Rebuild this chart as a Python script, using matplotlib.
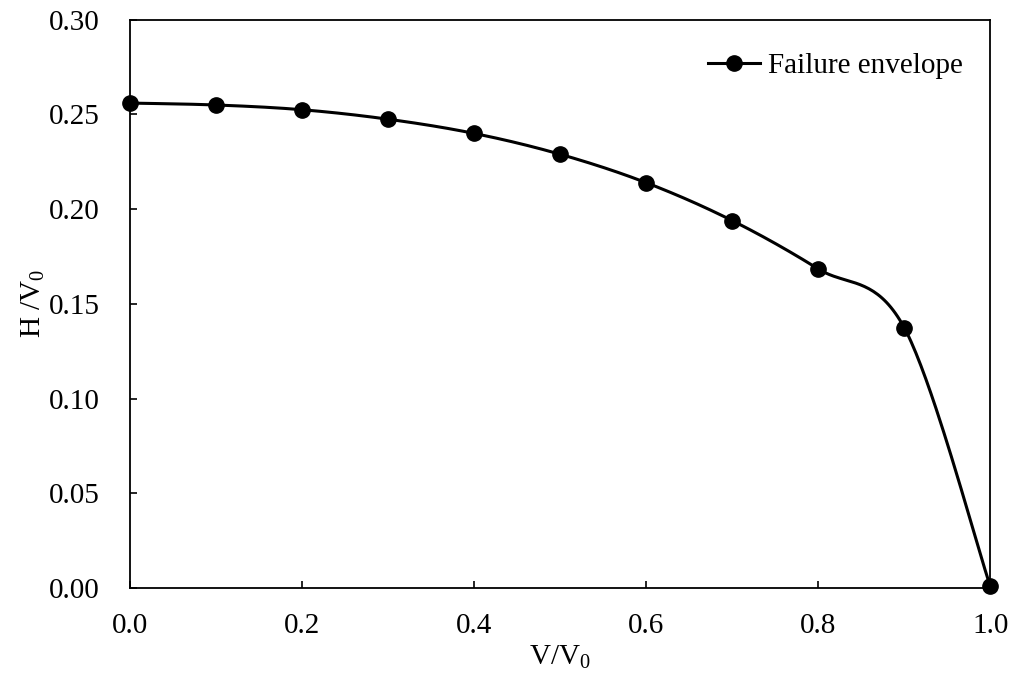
import numpy as np
import matplotlib
matplotlib.use("Agg")
import matplotlib.pyplot as plt

plt.rcParams['font.family'] = ['Liberation Serif', 'DejaVu Serif']
plt.rcParams['mathtext.fontset'] = 'custom'
plt.rcParams['mathtext.rm'] = 'Liberation Serif'
plt.rcParams['mathtext.it'] = 'Liberation Serif:italic'

# data
v_ratio = [0.0, 0.1, 0.2, 0.3, 0.4, 0.5, 0.6, 0.7, 0.8, 0.9, 1.0]
h_ratio = [0.256, 0.255, 0.2525, 0.2475, 0.240, 0.229, 0.214, 0.194, 0.1685, 0.1375, 0.001]


# Excel-like smoothed line (Catmull-Rom as cubic Bezier segments)
def smooth(x, y, n=40):
    p = np.column_stack([x, y]).astype(float)
    p = np.vstack([p[0], p, p[-1]])
    out = []
    t = np.linspace(0, 1, n)[:, None]
    for i in range(1, len(p) - 2):
        p0, p1, p2, p3 = p[i - 1], p[i], p[i + 1], p[i + 2]
        c1 = p1 + (p2 - p0) / 6
        c2 = p2 - (p3 - p1) / 6
        seg = ((1 - t) ** 3) * p1 + 3 * ((1 - t) ** 2) * t * c1 + 3 * (1 - t) * t ** 2 * c2 + t ** 3 * p2
        out.append(seg)
    out = np.vstack(out)
    return out[:, 0], out[:, 1]


fig = plt.figure(figsize=(10.12, 6.8), dpi=100)
ax = fig.add_axes([0.1285, 0.135, 0.85, 0.836])

sx, sy = smooth(v_ratio, h_ratio)
ax.plot(sx, sy, color='black', lw=2.2, zorder=2)
ax.plot(v_ratio, h_ratio, 'o', color='black', ms=11, zorder=3, clip_on=False)
# legend proxy
ax.plot([], [], '-o', color='black', lw=2.2, ms=11, label='Failure envelope')

ax.set_xlim(0, 1.0)
ax.set_ylim(0, 0.30)
ax.set_xticks(np.arange(0, 1.01, 0.2))
ax.set_yticks(np.arange(0, 0.301, 0.05))
ax.xaxis.set_major_formatter(matplotlib.ticker.FormatStrFormatter('%.1f'))
ax.yaxis.set_major_formatter(matplotlib.ticker.FormatStrFormatter('%.2f'))
ax.tick_params(direction='in', length=5, width=1.2, labelsize=21)
ax.tick_params(axis='x', pad=18)
ax.tick_params(axis='y', pad=22)
for s in ax.spines.values():
    s.set_linewidth(1.3)

ax.set_xlabel(r'V/V$_{\mathrm{0}}$', fontsize=21, labelpad=3.5)
ax.set_ylabel(r'H /V$_{\mathrm{0}}$', fontsize=21, labelpad=1)

ax.legend(loc='center right', bbox_to_anchor=(0.9686, 0.919), frameon=False,
          fontsize=21, handlelength=1.8, handletextpad=0.28,
          borderpad=0, borderaxespad=0)

fig.savefig('out.png', dpi=100)
